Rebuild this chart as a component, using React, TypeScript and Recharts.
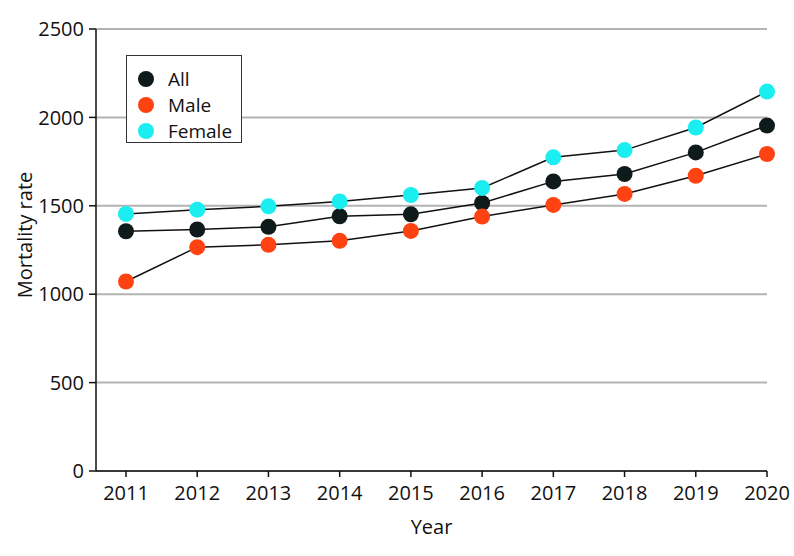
import React from "react";
import {
  LineChart,
  Line,
  XAxis,
  YAxis,
  CartesianGrid,
  Label,
} from "recharts";

const years = [2011, 2012, 2013, 2014, 2015, 2016, 2017, 2018, 2019, 2020];
const allRates = [1356, 1366, 1381, 1441, 1452, 1516, 1638, 1680, 1802, 1954];
const maleRates = [1072, 1266, 1279, 1302, 1358, 1439, 1505, 1567, 1670, 1793];
const femaleRates = [1454, 1478, 1497, 1525, 1561, 1601, 1774, 1815, 1943, 2146];
const yTicks = [0, 500, 1000, 1500, 2000, 2500];

const series = [
  { key: "all", name: "All", color: "#0f1a1a" },
  { key: "male", name: "Male", color: "#ff4212" },
  { key: "female", name: "Female", color: "#1aeef0" },
];

const data = years.map((year, i) => ({
  year,
  all: allRates[i],
  male: maleRates[i],
  female: femaleRates[i],
}));

const font = "'Open Sans', sans-serif";

// legend sits over the plot, so it is drawn outside recharts' layout
function LegendBox() {
  return (
    <div
      style={{
        position: "absolute",
        left: 126,
        top: 55,
        width: 103,
        height: 76,
        border: "1.5px solid #333",
        background: "#fff",
        padding: "10px 0 0 11px",
        boxSizing: "content-box",
        fontFamily: font,
        fontSize: 19,
        color: "#111",
      }}
    >
      {series.map((s) => (
        <div
          key={s.key}
          style={{ display: "flex", alignItems: "center", height: 26 }}
        >
          <span
            style={{
              width: 16,
              height: 16,
              borderRadius: 8,
              background: s.color,
              marginRight: 14,
              display: "inline-block",
            }}
          />
          {s.name}
        </div>
      ))}
    </div>
  );
}

export default function App() {
  const tick = { fill: "#111", fontSize: 20, fontFamily: font };
  return (
    <div style={{ position: "absolute", left: 0, top: 0, width: 794, height: 556 }}>
      <LineChart
        width={794}
        height={556}
        data={data}
        margin={{ top: 29, right: 27, bottom: 0, left: 0 }}
      >
        <CartesianGrid vertical={false} stroke="#b3b3b3" strokeWidth={2} />
        <XAxis
          dataKey="year"
          padding={{ left: 30, right: 0 }}
          height={85}
          tick={tick}
          tickSize={6}
          tickMargin={9}
          axisLine={{ stroke: "#111", strokeWidth: 1.5 }}
          tickLine={{ stroke: "#111", strokeWidth: 1.5 }}
        >
          <Label
            value="Year"
            position="insideBottom"
            offset={22}
            style={{ fill: "#111", fontSize: 20, fontFamily: font }}
          />
        </XAxis>
        <YAxis
          domain={[0, 2500]}
          ticks={yTicks}
          width={96}
          tick={tick}
          tickSize={7}
          tickMargin={5}
          axisLine={{ stroke: "#111", strokeWidth: 1.5 }}
          tickLine={{ stroke: "#111", strokeWidth: 1.5 }}
        >
          <Label
            value="Mortality rate"
            angle={-90}
            position="insideLeft"
            offset={25}
            dy={-15}
            style={{
              fill: "#111",
              fontSize: 20,
              fontFamily: font,
              textAnchor: "middle",
            }}
          />
        </YAxis>
        {series.map((s) => (
          <Line
            key={s.key}
            dataKey={s.key}
            name={s.name}
            type="linear"
            stroke="#111"
            strokeWidth={1.5}
            dot={{ r: 8, fill: s.color, stroke: "none" }}
            activeDot={false}
            isAnimationActive={false}
          />
        ))}
      </LineChart>
      <LegendBox />
    </div>
  );
}
